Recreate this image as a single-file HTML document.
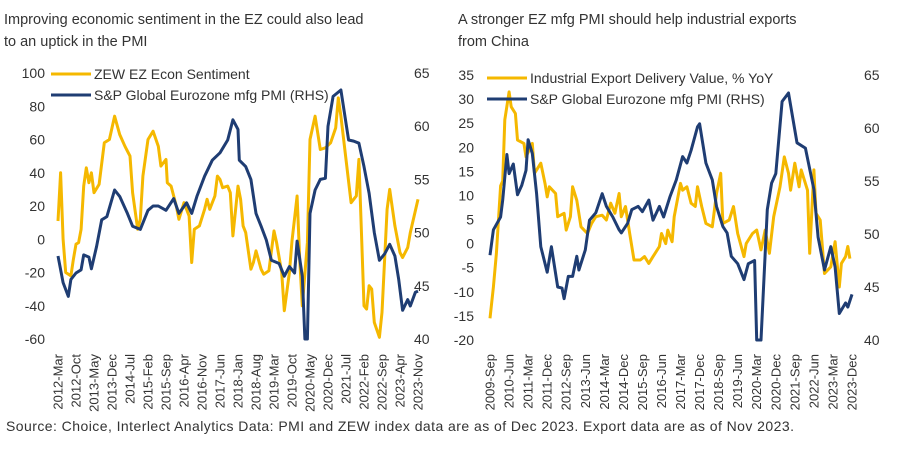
<!DOCTYPE html>
<html><head><meta charset="utf-8">
<style>
body{margin:0;background:#fff;width:900px;height:450px;overflow:hidden;font-family:"Liberation Sans",sans-serif;}
svg text{font-family:"Liberation Sans",sans-serif;fill:#333;}
</style></head>
<body>
<svg id="svg" width="900" height="450">
<text x="4" y="24" font-size="14.5">Improving economic sentiment in the EZ could also lead</text>
<text x="4" y="46" font-size="14.5">to an uptick in the PMI</text>
<text x="458" y="24" font-size="14.5">A stronger EZ mfg PMI should help industrial exports</text>
<text x="458" y="46" font-size="14.5">from China</text>
<text x="6" y="431" font-size="14" textLength="788" lengthAdjust="spacing">Source: Choice, Interlect Analytics   Data: PMI and ZEW index data are as of Dec 2023. Export data are as of Nov 2023.</text>
<g id="left"></g>
<g id="right"></g>
</svg>
<script>
// Left chart data (month index from 2012-Mar)
const zewMonths=[0,1,2,3,5,6,7,8,9,10,11,12,13,14,16,18,20,22,24,26,28,29,31,32,33,35,37,39,40,42,42.5,44,46,47,49,51,52,53,55,57,58,59,61,62,63,64,66,67,68,70,71,72,73,75,76,77,79,80,82,84,85,87,88,90,91,93,94,95,97,98,100,102,104,106,108,109,110,112,114,115,116,117,119,120,121,122,123,125,126,128,129,131,133,134,136,137,140];
const zewValues=[11,40,0,-20,-22,-12,-3,-2,6,32,43,34,40,28,33,58,60,74,63,56,50,28,6,12,38,60,65,56,44,48,34,32,20,12,22,14,-14,6,8,18,24,18,26,38,36,31,32,28,2,32,24,8,4,-18,-14,-7,-18,-21,-19,5,-2,-20,-43,-20,-1,26,-12,-40,-2,60,74,54,55,58,67,85,74,48,22,24,26,48,-40,-42,-28,-30,-50,-59,-44,18,30,8,-8,-11,-5,4,24];
const pmiLMonths=[0,2,4,5,7,9,10,12,13,15,17,19,22,24,27,29,32,35,37,39,42,45,47,50,52,54,57,60,63,66,68,70,70.5,73,75,77,79,81,83,86,88,90,92,93,95,96,97,98,100,102,104,105,107,110,113,115,117,119,121,123,125,127,129,131,132.5,134,136,137,139,140];
const pmiLValues=[47.8,45.3,44.0,45.6,46.2,46.5,47.9,47.7,46.6,48.7,51.2,51.5,54.0,53.4,51.8,50.6,50.3,52.1,52.5,52.5,52.1,53.2,51.8,52.8,51.8,53.4,55.3,56.8,57.5,58.7,60.6,59.7,56.8,56.2,55.0,51.8,50.6,49.3,47.4,47.1,45.9,46.8,46.2,49.2,45.9,40,40,51.8,54.0,55.0,55.1,60,62.8,63.4,58.7,58.6,58.4,56.2,53.7,50.0,47.4,48,48.9,47.8,45.6,42.7,43.7,43.1,44.4,44.5];
const leftTicks=[100,80,60,40,20,0,-20,-40,-60];
const leftRTicks=[65,60,55,50,45,40];
const leftXLabels=["2012-Mar","2012-Oct","2013-May","2013-Dec","2014-Jul","2015-Feb","2015-Sep","2016-Apr","2016-Nov","2017-Jun","2018-Jan","2018-Aug","2019-Mar","2019-Oct","2020-May","2020-Dec","2021-Jul","2022-Feb","2022-Sep","2023-Apr","2023-Nov"];
// Right chart data (month index from 2009-Sep)
const expMonths=[0,1.6,3,5,6,7,9,10,12,13,16,17,20,21,24,26,27,28,31,32,35,36,38,39,41,43,46,48,50,53,55,57,59,61,62,64,66,68,71,73,75,77,80,81,83,84,86,87,90,91,93,95,97,98,100,102,105,107,109,110,113,115,117,120,121,124,126,128,130,132,134,137,139,141,142,144,146,147,150,151,153,154,156,158,161,163,165,166,168,169,170];
const expValues=[-15.5,-9,-2,12,13,25.7,31.5,28.4,27,21.5,20.8,18,20.8,14.6,16.7,12.5,9.7,11.8,10.4,5.6,6.3,2.8,5.6,11.8,9,3.5,2.1,4.2,5.6,5.9,4.9,8.4,6.3,10.4,5.6,7.7,2.1,-3.4,-3.4,-2.7,-4.1,-2.7,-0.6,2.1,0,2.8,0.4,5.6,12.5,11.1,11.8,8.4,7.7,11.8,7.7,4.2,3.5,10.4,14.6,4.2,4.9,7.7,2.1,-2.7,0,2.1,2.8,-1.3,2.8,-2,5.6,11.8,18,14.6,11.1,16.7,11.8,15.3,11.1,-2,15.3,6.3,4.9,-6.2,-4.8,0.4,-9,-4.1,-2.7,-0.6,-3.1];
const pmiRMonths=[0,1.6,5,6,8,9,11,13,15,17,18,20,22,24,27,29,32,34,35,37,39,41,42,45,47,50,53,55,58,61,62,65,67,70,72,75,77,80,82,85,88,91,93,95,98,99,102,105,107,110,112,114,117,120,122,125,126,128,131,133,135,138,141,145,149,153,155,158,161,163,165,168,169,171];
const pmiRValues=[48,50.4,51.6,53.2,57.5,55.7,56.6,53.7,54.6,56,58.9,57.6,53.8,48.8,46.4,48.8,45,44.9,43.9,46,46,47.9,46.6,48.5,51.3,52,53.8,52.6,51.6,50.4,50.1,51,52.3,52.6,52.1,53.2,51.3,52.6,51.6,53.5,55.1,57.3,56.7,57.9,60.1,60.4,56.7,55.1,52.6,50.7,50.1,47.9,47.2,45.7,47.2,47.5,40,40,52.3,54.8,55.7,62.5,63.3,58.6,58.1,54.2,49.7,46.6,48.8,46.9,42.5,43.5,43.1,44.3];
const rightTicks=[35,30,25,20,15,10,5,0,-5,-10,-15,-20];
const rightRTicks=[65,60,55,50,45,40];
const rightXLabels=["2009-Sep","2010-Jun","2011-Mar","2011-Dec","2012-Sep","2013-Jun","2014-Mar","2014-Dec","2015-Sep","2016-Jun","2017-Mar","2017-Dec","2018-Sep","2019-Jun","2020-Mar","2020-Dec","2021-Sep","2022-Jun","2023-Mar","2023-Dec"];

const NS="http://www.w3.org/2000/svg";
function mk(parent,tag,attrs,text){const e=document.createElementNS(NS,tag);for(const k in attrs)e.setAttribute(k,attrs[k]);if(text!==undefined)e.textContent=text;parent.appendChild(e);return e;}

function drawChart(g,cfg){
  const xs=m=>cfg.x0+(m/cfg.mMax)*(cfg.x1-cfg.x0);
  const yl=v=>cfg.yTop+(cfg.lMax-v)/(cfg.lMax-cfg.lMin)*(cfg.yBot-cfg.yTop);
  const yr=v=>cfg.yTop+(cfg.rMax-v)/(cfg.rMax-cfg.rMin)*(cfg.yBot-cfg.yTop);
  cfg.lTicks.forEach(t=>{
    const e=mk(g,'text',{x:cfg.lLabX,y:yl(t)+5,'font-size':14,'text-anchor':'end'},t);
    
    
  });
  cfg.rTicks.forEach(t=>{
    const e=mk(g,'text',{x:cfg.rLabX,y:yr(t)+5,'font-size':14,'text-anchor':'start'},t);
    
    
  });
  cfg.xLabels.forEach((l,i)=>{
    const x=xs(i*cfg.step)+4.5;
    const e=mk(g,'text',{x:x,y:cfg.xLabY,'font-size':13,'text-anchor':'end',transform:`rotate(-90 ${x} ${cfg.xLabY})`},l);
    
    
  });
  const p1=mk(g,'polyline',{fill:'none',stroke:'#F5B800','stroke-width':3,'stroke-linejoin':'round',points:cfg.aM.map((m,i)=>xs(m).toFixed(1)+','+yl(cfg.aV[i]).toFixed(1)).join(' ')});
  
  
  const p2=mk(g,'polyline',{fill:'none',stroke:'#1F3D73','stroke-width':3,'stroke-linejoin':'round',points:cfg.bM.map((m,i)=>xs(m).toFixed(1)+','+yr(cfg.bV[i]).toFixed(1)).join(' ')});
  
  
  const l1=mk(g,'line',{x1:cfg.legX,x2:cfg.legX+40,y1:cfg.legY,y2:cfg.legY,stroke:'#F5B800','stroke-width':3});
  
  
  const t1=mk(g,'text',{x:cfg.legX+43,y:cfg.legY+5,'font-size':14},cfg.aLabel);
  
  
  const l2=mk(g,'line',{x1:cfg.legX,x2:cfg.legX+40,y1:cfg.legY+21,y2:cfg.legY+21,stroke:'#1F3D73','stroke-width':3});
  
  
  const t2=mk(g,'text',{x:cfg.legX+43,y:cfg.legY+26,'font-size':14},cfg.bLabel);
  
  
}
drawChart(document.getElementById('left'),{x0:58,x1:418,mMax:140,yTop:73,yBot:339,lMax:100,lMin:-60,rMax:65,rMin:40,
  lTicks:leftTicks,rTicks:leftRTicks,lLabX:45,rLabX:414,xLabels:leftXLabels,step:7,xLabY:354,
  aM:zewMonths,aV:zewValues,bM:pmiLMonths,bV:pmiLValues,aName:'zew-line',bName:'pmi-line-left',
  legX:51,legY:74,aLabel:'ZEW EZ Econ Sentiment',bLabel:'S&P Global Eurozone mfg PMI (RHS)'});
drawChart(document.getElementById('right'),{x0:490,x1:852,mMax:171,yTop:75,yBot:340,lMax:35,lMin:-20,rMax:65,rMin:40,
  lTicks:rightTicks,rTicks:rightRTicks,lLabX:474,rLabX:864,xLabels:rightXLabels,step:9,xLabY:354,
  aM:expMonths,aV:expValues,bM:pmiRMonths,bV:pmiRValues,aName:'export-line',bName:'pmi-line-right',
  legX:487,legY:78,aLabel:'Industrial Export Delivery Value, % YoY',bLabel:'S&P Global Eurozone mfg PMI (RHS)'});
</script>
</body></html>
